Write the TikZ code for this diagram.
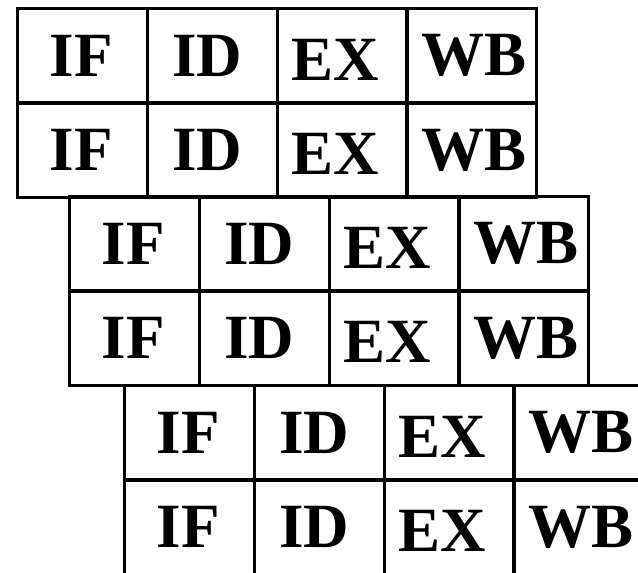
\documentclass[tikz,border=0pt]{standalone}
\usepackage{fontspec}
\setmainfont{Liberation Serif}
\begin{document}
\begin{tikzpicture}[x=1pt,y=-1pt,
  cell/.style={draw, line width=3.2pt, minimum width=129.8pt, minimum height=94.3pt, inner sep=0pt, anchor=north west},
  lbl/.style={font=\fontsize{63}{63}\selectfont\bfseries, inner sep=0pt}]
\useasboundingbox (0,0) rectangle (638,573);
\clip (0,0) rectangle (638,573);
\foreach \b/\x/\y in {1/16/7, 2/68/195, 3/123/384} {
  \foreach \r in {0,1} {
    \foreach \c/\t/\dx/\dy in {0/IF/-1.5/0, 1/ID/-5/0, 2/EX/-7/4, 3/WB/2/0} {
      \node[cell] (b\b r\r c\c) at (\x+\c*129.8, \y+\r*94.3) {};
      \node[lbl] (t\b r\r c\c) at ([xshift=\dx pt, yshift=-\dy pt]b\b r\r c\c.center) {\t};
    }
  }
}
\end{tikzpicture}
\end{document}
